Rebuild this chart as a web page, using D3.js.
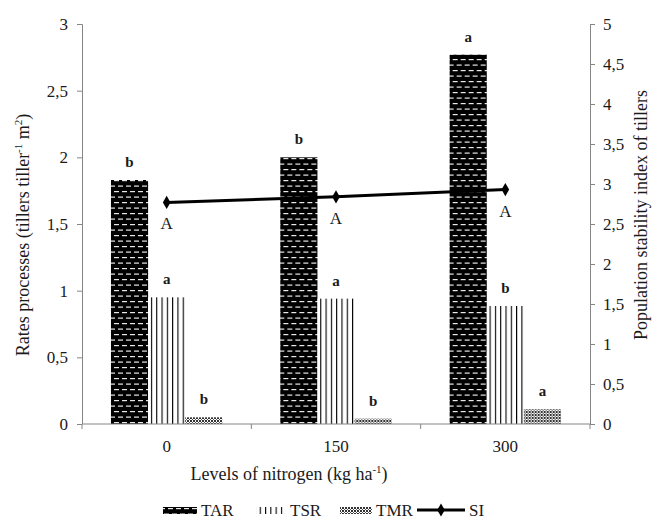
<!DOCTYPE html>
<html>
<head>
<meta charset="utf-8">
<script src="https://cdn.jsdelivr.net/npm/d3@7"></script>
<style>
  body { margin: 0; background: #fff; }
  text { font-family: "Liberation Serif", "Times New Roman", serif; fill: #1a1a1a; }
</style>
</head>
<body>
<div id="chart"></div>
<script>
// data
var levels = ["0", "150", "300"];
var series = ["TAR", "TSR", "TMR"];
var tar = [1.83, 2.0, 2.77];
var tsr = [0.95, 0.94, 0.885];
var tmr = [0.05, 0.04, 0.11];
var tarLetters = ["b", "b", "a"];
var tsrLetters = ["a", "a", "b"];
var tmrLetters = ["b", "b", "a"];
var si = [2.77, 2.84, 2.93];
var siLetters = ["A", "A", "A"];
var leftTicks = [0, 0.5, 1, 1.5, 2, 2.5, 3];
var rightTicks = [0, 0.5, 1, 1.5, 2, 2.5, 3, 3.5, 4, 4.5, 5];

var width = 653, height = 521;
var margin = { left: 82, right: 63, top: 24, bottom: 97 };
var innerW = width - margin.left - margin.right,
    innerH = height - margin.top - margin.bottom;

var svg = d3.select('#chart').append('svg')
    .attr('width', width)
    .attr('height', height);

/* patterns */
var defs = svg.append('defs');

var pTar = defs.append('pattern').attr('id', 'pTar')
    .attr('patternUnits', 'userSpaceOnUse').attr('width', 8).attr('height', 11);
pTar.append('rect').attr('width', 8).attr('height', 11).attr('fill', '#000');
pTar.append('rect').attr('x', 0).attr('y', 2).attr('width', 5).attr('height', 1.2).attr('fill', '#e8e8e8');
pTar.append('rect').attr('x', 4).attr('y', 7.5).attr('width', 5).attr('height', 1.2).attr('fill', '#e8e8e8');
pTar.append('rect').attr('x', -4).attr('y', 7.5).attr('width', 5).attr('height', 1.2).attr('fill', '#e8e8e8');

var pTsr = defs.append('pattern').attr('id', 'pTsr')
    .attr('patternUnits', 'userSpaceOnUse').attr('width', 5.3).attr('height', 10);
pTsr.append('rect').attr('width', 5.3).attr('height', 10).attr('fill', '#fff');
pTsr.append('rect').attr('x', 0).attr('width', 1.1).attr('height', 10).attr('fill', '#000');

var pTmr = defs.append('pattern').attr('id', 'pTmr')
    .attr('patternUnits', 'userSpaceOnUse').attr('width', 3).attr('height', 3);
pTmr.append('rect').attr('width', 3).attr('height', 3).attr('fill', '#fff');
pTmr.append('rect').attr('width', 2).attr('height', 2).attr('fill', '#333');
pTmr.append('rect').attr('x', 2).attr('y', 2).attr('width', 1).attr('height', 1).attr('fill', '#555');

var fills = { TAR: 'url(#pTar)', TSR: 'url(#pTsr)', TMR: 'url(#pTmr)' };

var g = svg.append('g').attr('transform', 'translate(' + margin.left + ',' + margin.top + ')');

/* scales */
var x0 = d3.scaleBand().domain(levels).range([0, innerW]).padding(0);
var x1 = d3.scaleBand().domain(series).range([0, x0.bandwidth()]).paddingInner(0).paddingOuter(0.78);
var yL = d3.scaleLinear().domain([0, 3]).range([innerH, 0]);
var yR = d3.scaleLinear().domain([0, 5]).range([innerH, 0]);

var rows = levels.map(function(l, i) {
    return { level: l, TAR: tar[i], TSR: tsr[i], TMR: tmr[i],
             lTAR: tarLetters[i], lTSR: tsrLetters[i], lTMR: tmrLetters[i] };
});

/* bars */
var grp = g.selectAll('.grp').data(rows).enter().append('g')
    .attr('transform', function(d) { return 'translate(' + x0(d.level) + ',0)'; });

grp.selectAll('rect')
    .data(function(d) { return series.map(function(s) { return { s: s, v: d[s], l: d['l' + s] }; }); })
    .enter().append('rect')
    .attr('x', function(d) { return x1(d.s); })
    .attr('y', function(d) { return yL(d.v); })
    .attr('width', x1.bandwidth())
    .attr('height', function(d) { return innerH - yL(d.v); })
    .attr('fill', function(d) { return fills[d.s]; });

grp.selectAll('.let')
    .data(function(d) { return series.map(function(s) { return { s: s, v: d[s], l: d['l' + s] }; }); })
    .enter().append('text')
    .attr('x', function(d) { return x1(d.s) + x1.bandwidth() / 2; })
    .attr('y', function(d) { return yL(d.v) - 13; })
    .attr('text-anchor', 'middle')
    .style('font-size', '15px')
    .style('font-weight', 'bold')
    .text(function(d) { return d.l; });

/* axes */
var axisColor = '#868686';
var xAxis = g.append('g').attr('transform', 'translate(0,' + innerH + ')');
xAxis.append('line').attr('x1', 0).attr('x2', innerW).attr('stroke', axisColor);
xAxis.selectAll('.tk').data([0, 1, 2, 3]).enter().append('line')
    .attr('x1', function(d) { return d * x0.step(); })
    .attr('x2', function(d) { return d * x0.step(); })
    .attr('y1', 0).attr('y2', 5).attr('stroke', axisColor);
xAxis.selectAll('.lb').data(levels).enter().append('text')
    .attr('x', function(d) { return x0(d) + x0.bandwidth() / 2; })
    .attr('y', 28)
    .attr('text-anchor', 'middle')
    .style('font-size', '17px')
    .text(function(d) { return d; });

var left = g.append('g').call(d3.axisLeft(yL).tickValues(leftTicks).tickSize(5).tickPadding(9)
    .tickFormat(function(d) { return String(d).replace('.', ','); }));
var right = g.append('g').attr('transform', 'translate(' + innerW + ',0)')
    .call(d3.axisRight(yR).tickValues(rightTicks).tickSize(5).tickPadding(8)
    .tickFormat(function(d) { return String(d).replace('.', ','); }));
[left, right].forEach(function(a) {
    a.select('.domain').attr('stroke', axisColor).attr('d', a === left ? 'M-5,0.5H0.5V' + innerH : 'M5,0.5H0.5V' + innerH);
    a.selectAll('.tick line').attr('stroke', axisColor);
    a.selectAll('.tick text').style('font-family', '"Liberation Serif", serif').style('font-size', '17px').attr('fill', '#1a1a1a');
});

/* SI line */
var line = d3.line()
    .x(function(d, i) { return x0(levels[i]) + x0.bandwidth() / 2; })
    .y(function(d) { return yR(d); });
g.append('path').datum(si).attr('d', line)
    .attr('fill', 'none').attr('stroke', '#000').attr('stroke-width', 3);
g.selectAll('.pt').data(si).enter().append('path')
    .attr('d', d3.symbol(d3.symbolDiamond, 50))
    .attr('transform', function(d, i) { return 'translate(' + (x0(levels[i]) + x0.bandwidth() / 2) + ',' + yR(d) + ')'; })
    .attr('fill', '#000');
g.selectAll('.sil').data(si).enter().append('text')
    .attr('x', function(d, i) { return x0(levels[i]) + x0.bandwidth() / 2; })
    .attr('y', function(d) { return yR(d) + 27; })
    .attr('text-anchor', 'middle')
    .style('font-size', '17px')
    .text(function(d, i) { return siLetters[i]; });

/* axis titles */
var yt = svg.append('text')
    .attr('transform', 'translate(29,235) rotate(-90)')
    .attr('text-anchor', 'middle')
    .style('font-size', '18px');
yt.append('tspan').text('Rates processes (tillers tiller');
yt.append('tspan').attr('dy', -7).style('font-size', '11px').text('-1');
yt.append('tspan').attr('dy', 7).text('  m');
yt.append('tspan').attr('dy', -7).style('font-size', '11px').text('2');
yt.append('tspan').attr('dy', 7).text(')');

svg.append('text')
    .attr('transform', 'translate(647,215) rotate(-90)')
    .attr('text-anchor', 'middle')
    .style('font-size', '18px')
    .text('Population stability index of tillers');

var xt = svg.append('text')
    .attr('x', 289)
    .attr('y', 480)
    .attr('text-anchor', 'middle')
    .style('font-size', '18px');
xt.append('tspan').text('Levels of nitrogen (kg ha');
xt.append('tspan').attr('dy', -7).style('font-size', '11px').text('-1');
xt.append('tspan').attr('dy', 7).text(')');

/* legend */
var legendY = 510;
var legendItems = [
    { name: 'TAR', x: 163, w: 34 },
    { name: 'TSR', x: 256, w: 30 },
    { name: 'TMR', x: 340, w: 32 },
    { name: 'SI', x: 417, w: 48 }
];
var lg = svg.selectAll('.lg').data(legendItems).enter().append('g');
lg.filter(function(d) { return d.name !== 'SI'; }).append('rect')
    .attr('x', function(d) { return d.x; })
    .attr('y', legendY - 3)
    .attr('width', function(d) { return d.w; })
    .attr('height', 7)
    .attr('fill', function(d) { return fills[d.name]; });
var siItem = lg.filter(function(d) { return d.name === 'SI'; });
siItem.append('line')
    .attr('x1', function(d) { return d.x; }).attr('x2', function(d) { return d.x + d.w; })
    .attr('y1', legendY).attr('y2', legendY)
    .attr('stroke', '#000').attr('stroke-width', 3);
siItem.append('path')
    .attr('d', d3.symbol(d3.symbolDiamond, 50))
    .attr('transform', function(d) { return 'translate(' + (d.x + d.w / 2) + ',' + legendY + ')'; });
lg.append('text')
    .attr('x', function(d) { return d.x + d.w + 4; })
    .attr('y', legendY + 6)
    .style('font-size', '17px')
    .text(function(d) { return d.name; });
</script>
</body>
</html>
